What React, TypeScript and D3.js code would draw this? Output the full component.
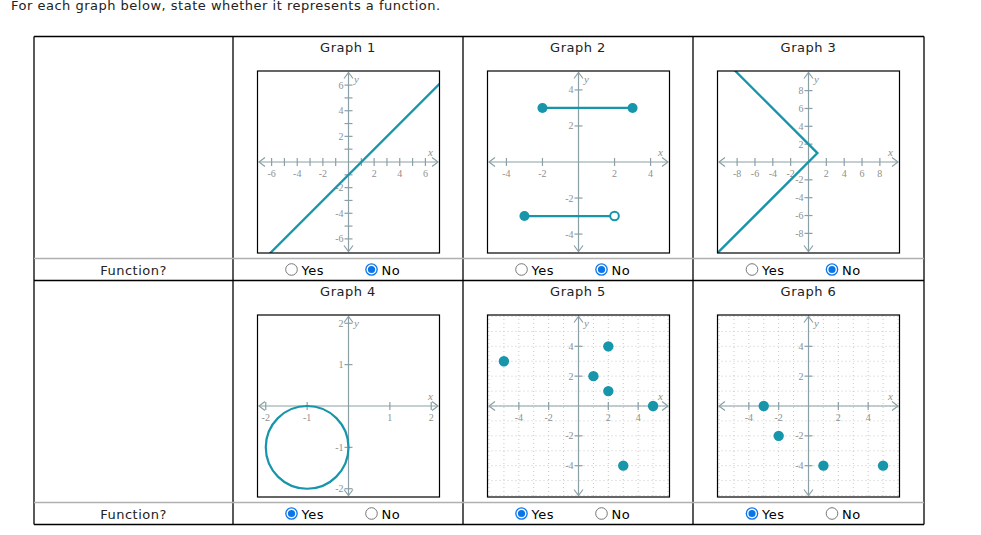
import React from "react";
import * as d3 from "d3";

const title = "For each graph below, state whether it represents a function.";
const graphTitles = ["Graph 1", "Graph 2", "Graph 3", "Graph 4", "Graph 5", "Graph 6"];
const answers = ["No", "No", "No", "Yes", "Yes", "Yes"];
const rowLabel = "Function?";

// graph data
const g1Line: [number, number][] = [[-8, -9], [8, 7]];
const g2Segments: [number, number][][] = [[[-2, 3], [3, 3]], [[-3, -3], [2, -3]]];
const g2Closed: [number, number][] = [[-2, 3], [3, 3], [-3, -3]];
const g2Open: [number, number][] = [[2, -3]];
const g3Line: [number, number][] = [[-9, 11], [1, 1], [-11, -11]];
const g4Circle = { cx: -1, cy: -1, r: 1 };
const g5Points: [number, number][] = [[-5, 3], [1, 2], [2, 4], [2, 1], [5, 0], [3, -4]];
const g6Points: [number, number][] = [[-3, 0], [-2, -2], [1, -4], [5, -4]];

// axis settings per graph
const domains = [7.1, 5.05, 10.2, 2.2, 6.1, 6.1];
const tickValues = [
  [-6, -5, -4, -3, -2, -1, 1, 2, 3, 4, 5, 6],
  [-4, -2, 2, 4],
  [-8, -6, -4, -2, 2, 4, 6, 8],
  [-2, -1, 1, 2],
  [-4, -2, 2, 4],
  [-4, -2, 2, 4],
];
const labelValues = [
  [-6, -4, -2, 2, 4, 6],
  [-4, -2, 2, 4],
  [-8, -6, -4, -2, 2, 4, 6, 8],
  [-2, -1, 1, 2],
  [-4, -2, 2, 4],
  [-4, -2, 2, 4],
];
const gridValues = [[], [], [], [], d3.range(-6, 7), d3.range(-6, 7)];

const colX = [34, 233, 463, 693, 924];
const rowTop = [36.5, 280.5];
const grayY = [258.5, 502.5];
const bottomY = 524.5;

const TEAL = "#1795aa";
const AXIS = "#8aa0a6";
const LABEL = "#8f8f8f";
const BLUE = "#0a75e8";
const FONT = "'DejaVu Sans', Verdana, sans-serif";
const SERIF = "'Liberation Serif', 'DejaVu Serif', serif";
const BOX = 182;
const LS = 0.5;

function Panel({ idx, x0, y0 }: { idx: number; x0: number; y0: number }) {
  const d = domains[idx];
  const xs = d3.scaleLinear().domain([-d, d]).range([x0, x0 + BOX]);
  const ys = d3.scaleLinear().domain([-d, d]).range([y0 + BOX, y0]);
  const ax = ys(0);
  const ay = xs(0);
  const clipId = `clip${idx}`;
  const line = d3.line<[number, number]>().x((p) => xs(p[0])).y((p) => ys(p[1]));
  const L = x0 + 1.5, R = x0 + BOX - 1.5, T = y0 + 1.5, B = y0 + BOX - 1.5;
  const ah = 6, aw = 4.5;
  let content: React.ReactNode = null;
  if (idx === 0) {
    content = <path d={line(g1Line) || ""} fill="none" stroke={TEAL} strokeWidth={2.3} />;
  } else if (idx === 1) {
    content = (
      <g>
        {g2Segments.map((s, i) => (
          <path key={i} d={line(s) || ""} fill="none" stroke={TEAL} strokeWidth={2.3} />
        ))}
        {g2Closed.map((p, i) => (
          <circle key={"c" + i} cx={xs(p[0])} cy={ys(p[1])} r={5} fill={TEAL} />
        ))}
        {g2Open.map((p, i) => (
          <circle key={"o" + i} cx={xs(p[0])} cy={ys(p[1])} r={4.3} fill="#fff" stroke={TEAL} strokeWidth={2} />
        ))}
      </g>
    );
  } else if (idx === 2) {
    content = <path d={line(g3Line) || ""} fill="none" stroke={TEAL} strokeWidth={2.3} />;
  } else if (idx === 3) {
    content = (
      <ellipse
        cx={xs(g4Circle.cx)}
        cy={ys(g4Circle.cy)}
        rx={xs(g4Circle.r) - xs(0)}
        ry={ys(0) - ys(g4Circle.r)}
        fill="none"
        stroke={TEAL}
        strokeWidth={2.2}
      />
    );
  } else {
    const pts = idx === 4 ? g5Points : g6Points;
    content = (
      <g>
        {pts.map((p, i) => (
          <circle key={i} cx={xs(p[0])} cy={ys(p[1])} r={5.2} fill={TEAL} />
        ))}
      </g>
    );
  }
  return (
    <g>
      <defs>
        <clipPath id={clipId}>
          <rect x={x0} y={y0} width={BOX} height={BOX} />
        </clipPath>
      </defs>
      <rect x={x0} y={y0} width={BOX} height={BOX} fill="#fff" />
      {gridValues[idx].map((g) => (
        <g key={"g" + g}>
          <line x1={xs(g)} x2={xs(g)} y1={y0} y2={y0 + BOX} stroke="#c8c8c8" strokeWidth={1} strokeDasharray="1,3" />
          <line y1={ys(g)} y2={ys(g)} x1={x0} x2={x0 + BOX} stroke="#c8c8c8" strokeWidth={1} strokeDasharray="1,3" />
        </g>
      ))}
      {/* axes */}
      <line x1={L} x2={R} y1={ax} y2={ax} stroke={AXIS} strokeWidth={1.2} />
      <line x1={ay} x2={ay} y1={T} y2={B} stroke={AXIS} strokeWidth={1.2} />
      <path d={`M${L + ah},${ax - aw}L${L},${ax}L${L + ah},${ax + aw}`} fill="none" stroke={AXIS} strokeWidth={1.2} />
      <path d={`M${R - ah},${ax - aw}L${R},${ax}L${R - ah},${ax + aw}`} fill="none" stroke={AXIS} strokeWidth={1.2} />
      <path d={`M${ay - aw},${T + ah}L${ay},${T}L${ay + aw},${T + ah}`} fill="none" stroke={AXIS} strokeWidth={1.2} />
      <path d={`M${ay - aw},${B - ah}L${ay},${B}L${ay + aw},${B - ah}`} fill="none" stroke={AXIS} strokeWidth={1.2} />
      {tickValues[idx].map((t) => (
        <g key={"t" + t}>
          <line x1={xs(t)} x2={xs(t)} y1={ax - 4} y2={ax + 4} stroke={AXIS} strokeWidth={1.2} />
          <line x1={ay - 4} x2={ay + 4} y1={ys(t)} y2={ys(t)} stroke={AXIS} strokeWidth={1.2} />
        </g>
      ))}
      {labelValues[idx].map((t) => (
        <g key={"l" + t} fontFamily={SERIF} fontSize={10} fill={LABEL}>
          <text x={xs(t)} y={ax + 15} textAnchor="middle">{t < 0 ? "-" + Math.abs(t) : String(t)}</text>
          <text x={ay - 5} y={ys(t) + 3.5} textAnchor="end">{t < 0 ? "-" + Math.abs(t) : String(t)}</text>
        </g>
      ))}
      <text x={x0 + BOX - 9} y={ax - 6} fontFamily={SERIF} fontStyle="italic" fontSize={11} fill={LABEL} textAnchor="middle">x</text>
      <text x={ay + 8} y={y0 + 12} fontFamily={SERIF} fontStyle="italic" fontSize={11} fill={LABEL} textAnchor="middle">y</text>
      <g clipPath={`url(#${clipId})`}>{content}</g>
      <rect x={x0} y={y0} width={BOX} height={BOX} fill="none" stroke="#000" strokeWidth={1.2} />
    </g>
  );
}

function Radio({ cx, cy, checked, label }: { cx: number; cy: number; checked: boolean; label: string }) {
  return (
    <g>
      {checked ? (
        <g>
          <circle cx={cx} cy={cy} r={6.3} fill={BLUE} />
          <circle cx={cx} cy={cy} r={4.3} fill={BLUE} stroke="#fff" strokeWidth={1.4} />
        </g>
      ) : (
        <circle cx={cx} cy={cy} r={5.8} fill="#fff" stroke="#767676" strokeWidth={1} />
      )}
      <text x={cx + 10} y={cy + 5} fontFamily={FONT} fontSize={13} letterSpacing={LS} fill="#000">{label}</text>
    </g>
  );
}

export default function App() {
  const cells: React.ReactNode[] = [];
  for (let r = 0; r < 2; r++) {
    for (let c = 0; c < 3; c++) {
      const idx = r * 3 + c;
      const cl = colX[c + 1];
      const cr = colX[c + 2];
      const center = (cl + cr) / 2;
      cells.push(
        <g key={idx}>
          <text x={center} y={rowTop[r] + 15} textAnchor="middle" fontFamily={FONT} fontSize={13} letterSpacing={LS} fill="#222">
            {graphTitles[idx]}
          </text>
          <Panel idx={idx} x0={Math.round(cl + 24) + 0.5} y0={rowTop[r] + 34.5} />
          <Radio cx={center - 56.5} cy={grayY[r] + 11} checked={answers[idx] === "Yes"} label="Yes" />
          <Radio cx={center + 23.5} cy={grayY[r] + 11} checked={answers[idx] === "No"} label="No" />
        </g>
      );
    }
  }
  return (
    <svg width={981} height={535} style={{ position: "absolute", left: 0, top: 0, background: "#fff" }}>
      <rect x={0} y={0} width={981} height={535} fill="#fff" />
      <text x={11} y={9.5} fontFamily={FONT} fontSize={13} letterSpacing={LS} fill="#222">{title}</text>
      {/* table grid */}
      <g stroke="#000" strokeWidth={1.3}>
        <line x1={colX[0]} x2={colX[4]} y1={rowTop[0]} y2={rowTop[0]} />
        <line x1={colX[0]} x2={colX[4]} y1={rowTop[1]} y2={rowTop[1]} />
        <line x1={colX[0]} x2={colX[4]} y1={bottomY} y2={bottomY} />
        {colX.map((x) => (
          <line key={x} x1={x} x2={x} y1={rowTop[0]} y2={bottomY} />
        ))}
      </g>
      {grayY.map((y) => (
        <line key={y} x1={colX[0]} x2={colX[4]} y1={y} y2={y} stroke="#b0b0b0" strokeWidth={1.5} />
      ))}
      {grayY.map((y) => (
        <text key={"f" + y} x={(colX[0] + colX[1]) / 2} y={y + 16} textAnchor="middle" fontFamily={FONT} fontSize={13} letterSpacing={LS} fill="#222">
          {rowLabel}
        </text>
      ))}
      {cells}
    </svg>
  );
}
